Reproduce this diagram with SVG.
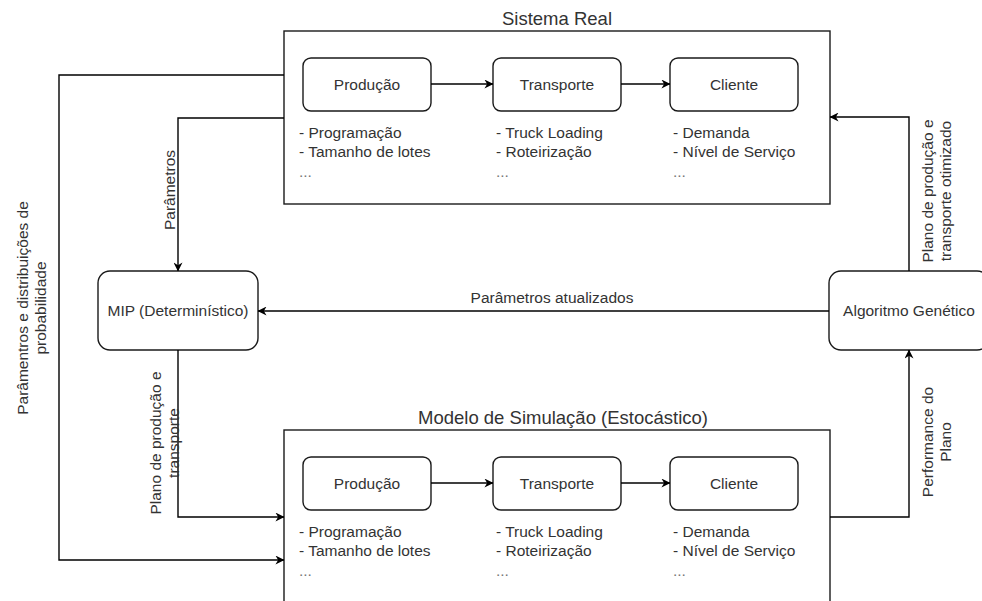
<svg xmlns="http://www.w3.org/2000/svg" width="982" height="601" viewBox="0 0 982 601">
<defs>
<marker id="arr" viewBox="0 0 10 10" refX="9.5" refY="5" markerWidth="9" markerHeight="9" markerUnits="userSpaceOnUse" orient="auto">
<path d="M0,0 L10,5 L0,10 L3,5 Z" fill="#000"/>
</marker>
<style>
.box{fill:#fff;stroke:#1a1a1a;stroke-width:1.4}
.frame{fill:#fff;stroke:#1a1a1a;stroke-width:1.4}
.t{font-family:"Liberation Sans",Arial,sans-serif;font-size:15.5px;fill:#333}
.title{font-family:"Liberation Sans",Arial,sans-serif;font-size:18.5px;fill:#333}
.c{text-anchor:middle}
.dots{fill:#777}
.ln{fill:none;stroke:#000;stroke-width:1.4}
</style>
</defs>
<rect width="982" height="601" fill="#fff"/>

<g id="sistema-real">
<rect class="frame" x="284" y="31" width="546" height="173"/>
<text class="title c" x="557" y="25">Sistema Real</text>
</g>
<g id="sr-producao">
<rect class="box" x="303" y="58" width="128" height="53" rx="8"/>
<text class="t c" x="367" y="90">Produção</text>
<text class="t" x="299" y="138">- Programação</text>
<text class="t" x="299" y="157">- Tamanho de lotes</text>
<text class="t dots" x="299" y="177">...</text>
</g>
<g id="sr-transporte">
<rect class="box" x="493" y="58" width="128" height="53" rx="8"/>
<text class="t c" x="557" y="90">Transporte</text>
<text class="t" x="496" y="138">- Truck Loading</text>
<text class="t" x="496" y="157">- Roteirização</text>
<text class="t dots" x="496" y="177">...</text>
</g>
<g id="sr-cliente">
<rect class="box" x="670" y="58" width="128" height="53" rx="8"/>
<text class="t c" x="734" y="90">Cliente</text>
<text class="t" x="673" y="138">- Demanda</text>
<text class="t" x="673" y="157">- Nível de Serviço</text>
<text class="t dots" x="673" y="177">...</text>
</g>

<g id="modelo-simulacao">
<rect class="frame" x="284" y="430" width="546" height="200"/>
<text class="title c" x="563" y="424">Modelo de Simulação (Estocástico)</text>
</g>
<g id="ms-producao">
<rect class="box" x="303" y="457" width="128" height="53" rx="8"/>
<text class="t c" x="367" y="489">Produção</text>
<text class="t" x="299" y="537">- Programação</text>
<text class="t" x="299" y="556">- Tamanho de lotes</text>
<text class="t dots" x="299" y="576">...</text>
</g>
<g id="ms-transporte">
<rect class="box" x="493" y="457" width="128" height="53" rx="8"/>
<text class="t c" x="557" y="489">Transporte</text>
<text class="t" x="496" y="537">- Truck Loading</text>
<text class="t" x="496" y="556">- Roteirização</text>
<text class="t dots" x="496" y="576">...</text>
</g>
<g id="ms-cliente">
<rect class="box" x="670" y="457" width="128" height="53" rx="8"/>
<text class="t c" x="734" y="489">Cliente</text>
<text class="t" x="673" y="537">- Demanda</text>
<text class="t" x="673" y="556">- Nível de Serviço</text>
<text class="t dots" x="673" y="576">...</text>
</g>

<g id="mip">
<rect class="box" x="98" y="271" width="160" height="79" rx="12"/>
<text class="t c" x="178" y="316">MIP (Determinístico)</text>
</g>
<g id="ag">
<rect class="box" x="829" y="271" width="160" height="79" rx="12"/>
<text class="t c" x="909" y="316">Algoritmo Genético</text>
</g>

<g id="connectors">
<path class="ln" d="M431,84 H493" marker-end="url(#arr)"/>
<path class="ln" d="M621,84 H670" marker-end="url(#arr)"/>
<path class="ln" d="M431,483 H493" marker-end="url(#arr)"/>
<path class="ln" d="M621,483 H670" marker-end="url(#arr)"/>
<path class="ln" d="M284,75 H59 V560 H284" marker-end="url(#arr)"/>
<path class="ln" d="M284,118 H178 V271" marker-end="url(#arr)"/>
<path class="ln" d="M178,350 V517 H284" marker-end="url(#arr)"/>
<path class="ln" d="M829,311 H258" marker-end="url(#arr)"/>
<path class="ln" d="M830,517 H909 V350" marker-end="url(#arr)"/>
<path class="ln" d="M909,271 V117 H830" marker-end="url(#arr)"/>

<text class="t c" transform="translate(31,308) rotate(-90)"><tspan x="0" y="-3.5">Parâmentros e distribuições de</tspan><tspan x="0" y="14.5">probabilidade</tspan></text>
<text class="t c" transform="translate(169,190) rotate(-90)" x="0" y="5.5">Parâmetros</text>
<text class="t c" transform="translate(164,443) rotate(-90)"><tspan x="0" y="-3.5">Plano de produção e</tspan><tspan x="0" y="14.5">transporte</tspan></text>
<text class="t c" x="552" y="303">Parâmetros atualizados</text>
<text class="t c" transform="translate(936.5,191) rotate(-90)"><tspan x="0" y="-3.5">Plano de produção e</tspan><tspan x="0" y="14.5">transporte otimizado</tspan></text>
<text class="t c" transform="translate(936.5,442) rotate(-90)"><tspan x="0" y="-3.5">Performance do</tspan><tspan x="0" y="14.5">Plano</tspan></text>
</g>
</svg>
